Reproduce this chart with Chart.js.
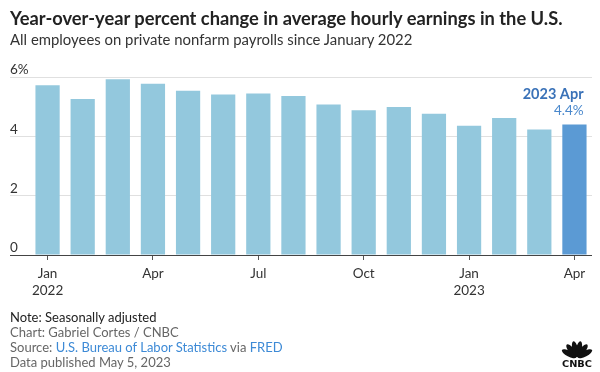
<!DOCTYPE html>
<html>
<head>
<meta charset="utf-8">
<script src="https://cdn.jsdelivr.net/npm/chart.js@4.4.0/dist/chart.umd.min.js"></script>
<style>
  body { margin: 0; background: #fff; }
  #wrap { position: relative; width: 600px; height: 372px; background: #fff; font-family: Lato, 'Open Sans', sans-serif; }
  #chart { position: absolute; left: 0; top: 0; }
  .txt { position: absolute; left: 10px; white-space: nowrap; }
  #title { top: 7px; font-size: 18.3px; line-height: 22px; font-weight: bold; color: #222; }
  #subtitle { top: 30px; font-size: 14.9px; line-height: 18px; color: #333; }
  .foot { font-size: 13px; line-height: 15px; color: #666; }
  .foot a { color: #3d8ad6; text-decoration: none; }
  #logo { position: absolute; left: 561px; top: 339px; }
</style>
</head>
<body>
<div id="wrap">
  <canvas id="chart" width="600" height="372"></canvas>
  <div class="txt" id="title">Year-over-year percent change in average hourly earnings in the U.S.</div>
  <div class="txt" id="subtitle">All employees on private nonfarm payrolls since January 2022</div>
  <div class="txt foot" style="top:310px;color:#222">Note: Seasonally adjusted</div>
  <div class="txt foot" style="top:325px">Chart: Gabriel Cortes / CNBC</div>
  <div class="txt foot" style="top:340px">Source: <a>U.S. Bureau of Labor Statistics</a> via <a>FRED</a></div>
  <div class="txt foot" style="top:355px">Data published May 5, 2023</div>
  <svg id="logo" width="32" height="28" viewBox="0 0 32 28">
    <g fill="#111" transform="translate(16,19)">
      <ellipse cx="0" cy="-9" rx="2.9" ry="8" transform="rotate(-62)"/>
      <ellipse cx="0" cy="-9" rx="2.9" ry="8" transform="rotate(-37)"/>
      <ellipse cx="0" cy="-9" rx="2.9" ry="8" transform="rotate(-12)"/>
      <ellipse cx="0" cy="-9" rx="2.9" ry="8" transform="rotate(12)"/>
      <ellipse cx="0" cy="-9" rx="2.9" ry="8" transform="rotate(37)"/>
      <ellipse cx="0" cy="-9" rx="2.9" ry="8" transform="rotate(62)"/>
    </g>
    <text x="16" y="27.5" text-anchor="middle" font-family="'DejaVu Sans', sans-serif" font-weight="bold" font-size="8" textLength="30" lengthAdjust="spacingAndGlyphs" fill="#111">CNBC</text>
  </svg>
</div>
<script>
/* ------------------------------------------------ */

const months = ['Jan', 'Feb', 'Mar', 'Apr', 'May', 'Jun', 'Jul', 'Aug', 'Sep', 'Oct', 'Nov', 'Dec', 'Jan', 'Feb', 'Mar', 'Apr'];
const years = ['2022', '', '', '', '', '', '', '', '', '', '', '', '2023', '', '', ''];
const earningsPct = [5.72, 5.26, 5.92, 5.77, 5.54, 5.41, 5.44, 5.36, 5.07, 4.88, 4.99, 4.76, 4.36, 4.62, 4.23, 4.4];
const quarterMonths = ['Jan', 'Apr', 'Jul', 'Oct'];
const yTicks = [0, 2, 4, 6];
const highlightLabel = '2023 Apr';

const FONT = 'Lato, "Open Sans", sans-serif';
const lastIndex = earningsPct.length - 1;

/* ------------------------------------------------ */

const annotateLast = {
  id: 'annotateLast',
  afterDatasetsDraw(chart) {
    let bar = chart.getDatasetMeta(0).data[lastIndex];
    let ctx = chart.ctx;
    let x = bar.x + bar.width / 2 - 3;
    let y = chart.scales.y.getPixelForValue(earningsPct[lastIndex]);
    ctx.save();
    ctx.textAlign = 'right';
    ctx.textBaseline = 'middle';
    ctx.font = 'bold 14.5px ' + FONT;
    ctx.fillStyle = '#3a72b8';
    ctx.fillText(highlightLabel, x, y - 30);
    ctx.font = '13.5px ' + FONT;
    ctx.fillStyle = '#4a88cc';
    ctx.fillText(earningsPct[lastIndex].toFixed(1) + '%', x, y - 14);
    ctx.restore();
  }
};

function isQuarter(i) {
  return quarterMonths.includes(months[i]);
}

function generateChart() {
  let ctx = document.getElementById('chart').getContext('2d');
  return new Chart(ctx, {
    type: 'bar',
    data: {
      labels: months,
      datasets: [{
        data: earningsPct,
        backgroundColor: earningsPct.map((x, i) => (i == lastIndex) ? '#5b9ad4' : '#93c8dd'),
        barPercentage: 0.69,
        categoryPercentage: 1,
      }],
    },
    options: {
      responsive: false,
      animation: false,
      layout: { padding: { left: 10, right: 8, top: 77, bottom: 0 } },
      plugins: { legend: { display: false }, tooltip: { enabled: false } },
      scales: {
        x: {
          border: { display: false },
          grid: {
            offset: false,
            drawOnChartArea: false,
            tickLength: 5,
            tickColor: (c) => isQuarter(c.index) ? '#555' : 'rgba(0,0,0,0)',
          },
          ticks: {
            autoSkip: false,
            maxRotation: 0,
            padding: 6,
            color: '#333',
            font: { family: FONT, size: 13.5 },
            callback: (v, i) => {
              if (!isQuarter(i)) return '';
              return years[i] ? [months[i], years[i]] : months[i];
            },
          },
          afterFit: (s) => { s.height = 117; },
        },
        y: {
          min: 0,
          max: 6,
          z: 1,
          border: { display: false },
          grid: {
            tickLength: 20,
            color: (c) => (c.tick && c.tick.value === 0) ? '#444' : 'rgba(0,0,0,0.12)',
          },
          afterBuildTicks: (s) => { s.ticks = yTicks.map((v) => ({ value: v })); },
          ticks: {
            crossAlign: 'far',
            padding: 0,
            labelOffset: -7,
            color: '#333',
            font: { family: FONT, size: 13.5 },
            callback: (v) => (v === 6) ? v + '%' : String(v),
          },
          afterFit: (s) => { s.width = 20; },
        },
      },
    },
    plugins: [annotateLast],
  });
}

let chart = generateChart();
</script>
</body>
</html>
